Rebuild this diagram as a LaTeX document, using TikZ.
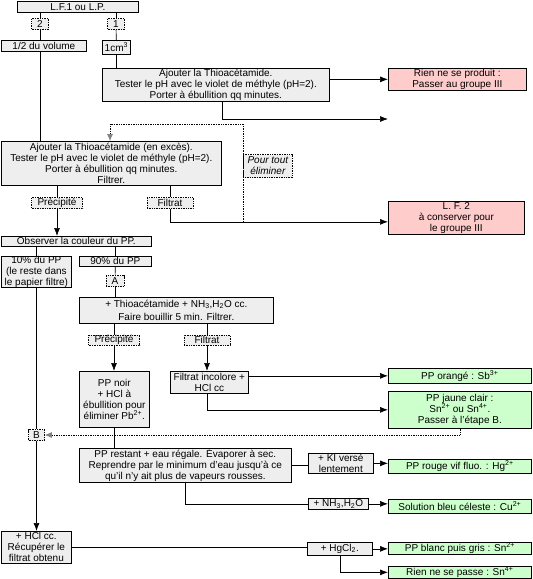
\documentclass[tikz,border=0pt]{standalone}
\usepackage{fontspec}
\setmainfont{Liberation Sans}
\usepackage{tikz}
\usetikzlibrary{arrows.meta, positioning}
\definecolor{boxgray}{HTML}{EEEEEE}
\definecolor{rosebox}{HTML}{FFCCCC}
\definecolor{vertbox}{HTML}{CCFFCC}

\begin{document}
\begin{tikzpicture}[x=1pt, y=-1pt, line width=0.7pt,
    every node/.style={font=\fontsize{10}{11}\selectfont, inner sep=0pt, align=center},
    etape/.style={draw, fill=boxgray, anchor=north west},
    rose/.style={etape, fill=rosebox},
    vert/.style={etape, fill=vertbox},
    repere/.style={draw, densely dotted, fill=boxgray, inner xsep=2pt, minimum height=11pt},
    fl/.style={-{Latex[length=8pt, width=6pt]}},
    retour/.style={densely dotted, -{Latex[length=7pt, width=6pt, gray]}}]
  \useasboundingbox (0,0) rectangle (533,579);

  % depart
  \node[etape, minimum width=121pt, minimum height=11pt] (lf1) at (17,1) {L.F.1 ou L.P.};
  \node[repere, minimum width=17pt] (t2) at (40,24) {2};
  \node[repere, minimum width=17pt] (t1) at (116,24) {1};
  \node[etape, minimum width=85pt, minimum height=11pt] (vol) at (1,40) {1/2 du volume};
  \node[etape, minimum width=28pt, minimum height=14pt] (cm) at (102,40) {1cm\textsuperscript{3}};

  \node[etape, minimum width=227pt, minimum height=33pt] (aj1) at (102,68) {Ajouter la Thioacétamide.\\
    Tester le pH avec le violet de méthyle (pH=2).\\Porter à ébullition qq minutes.};
  \node[rose, minimum width=138pt, minimum height=22pt] (rien) at (388,68) {Rien ne se produit :\\Passer au groupe III};
  \coordinate (suite) at (388,119);

  \node[etape, minimum width=220pt, minimum height=44pt] (aj2) at (1,141) {Ajouter la Thioacétamide (en excès).\\
    Tester le pH avec le violet de méthyle (pH=2).\\Porter à ébullition qq minutes.\\Filtrer.};
  \node[repere, anchor=west, minimum width=49pt, minimum height=23pt,
        font=\fontsize{10}{11}\selectfont\itshape] (pour) at (243,166) {Pour tout\\éliminer};
  \node[repere, minimum width=51pt] (prec1) at (57,203) {Précipité};
  \node[repere, minimum width=46pt] (filt1) at (170,203) {Filtrat};
  \node[rose, minimum width=136pt, minimum height=33pt] (lf2) at (388,201) {L. F. 2\\à conserver pour\\le groupe III};
  \coordinate (filtfin) at ([yshift=-4pt]lf2.west);

  % precipite
  \node[etape, minimum width=150pt, minimum height=10pt] (obs) at (1,236) {Observer la couleur du PP.};
  \node[etape, minimum width=70pt, minimum height=31pt] (p10) at (1,256) {10\% du PP\\(le reste dans\\le papier filtre)};
  \node[etape, minimum width=72pt, minimum height=10pt] (p90) at (79,256) {90\% du PP};
  \node[repere, minimum width=18pt] (tA) at (115,281) {A};
  \node[etape, minimum width=194pt, minimum height=26pt] (thio) at (79,297)
    {+ Thioacétamide + NH\textsubscript{3},H\textsubscript{2}O cc.\\[2pt]Faire bouillir 5 min. Filtrer.};
  \node[repere, minimum width=51pt, minimum height=10pt] (prec2) at (114,340) {Précipité};
  \node[repere, minimum width=46pt, minimum height=10pt] (filt2) at (207,340) {Filtrat};
  \node[etape, minimum width=70pt, minimum height=56pt] (noir) at (79,371)
    {PP noir\\+ HCl à\\ébullition pour\\éliminer Pb\textsuperscript{2+}.};
  \node[etape, minimum width=78pt, minimum height=22pt] (incol) at (170,371) {Filtrat incolore +\\HCl cc};
  \node[vert, minimum width=143pt, minimum height=15pt] (orange) at (388,368) {PP orangé : Sb\textsuperscript{3+}};
  \node[vert, minimum width=143pt, minimum height=37pt] (jaune) at (388,391)
    {PP jaune clair :\\Sn\textsuperscript{2+} ou Sn\textsuperscript{4+}.\\Passer à l'étape B.};

  % etape B
  \node[repere, minimum width=16pt] (tB) at (36.5,435) {B};
  \node[etape, minimum width=212pt, minimum height=34pt] (rest) at (79,448)
    {PP restant + eau régale. Évaporer à sec.\\Reprendre par le minimum d'eau jusqu'à ce\\qu'il n'y ait plus de vapeurs rousses.};
  \node[etape, minimum width=65pt, minimum height=20pt] (ki) at (308,453) {+ KI versé\\lentement};
  \node[vert, minimum width=143pt, minimum height=14pt] (hg) at (388,459) {PP rouge vif fluo. : Hg\textsuperscript{2+}};
  \node[etape, minimum width=60pt, minimum height=11pt] (nh) at (308,498) {+ NH\textsubscript{3},H\textsubscript{2}O};
  \node[vert, minimum width=143pt, minimum height=14pt] (cu) at (388,499) {Solution bleu céleste : Cu\textsuperscript{2+}};
  \node[etape, minimum width=70pt, minimum height=32pt] (hcl) at (1,531) {+ HCl cc.\\Récupérer le\\filtrat obtenu};
  \node[etape, minimum width=65pt, minimum height=13pt] (hgcl) at (307,542) {+ HgCl\textsubscript{2}.};
  \node[vert, minimum width=143pt, minimum height=12pt] (blanc) at (388,542) {PP blanc puis gris : Sn\textsuperscript{2+}};
  \node[vert, minimum width=143pt, minimum height=12pt] (passe) at (388,566) {Rien ne se passe : Sn\textsuperscript{4+}};

  % liaisons
  \draw (lf1.south -| t2) -- (t2);
  \draw (t2) -- (t2 |- vol.north);
  \draw (lf1.south -| t1) -- (t1);
  \draw (t1) -- (cm);
  \draw (cm) -- (cm |- aj1.north);
  \draw[fl] (aj1.east |- rien.west) -- (rien.west);
  \draw[fl] ([xshift=6pt]aj1.south) |- (suite);
  \draw (t2 |- vol.south) -- (t2 |- aj2.north);
  \coordinate (dh) at (243,124);
  \coordinate (dg) at (110,124);
  \draw[retour] (dh |- filtfin) -- (dh) -- (dg) -- (dg |- aj2.north);
  \draw (aj2.south -| prec1) -- (prec1);
  \draw[fl] (prec1) -- (prec1 |- obs.north);
  \draw (aj2.south -| filt1) -- (filt1);
  \draw[fl] (filt1) |- (filtfin);
  \draw (obs.south -| p10) -- (p10);
  \draw (obs.south -| p90) -- (p90);
  \draw (p90) -- (tA);
  \draw (tA) -- (tA |- thio.north);
  \draw (thio.south -| prec2) -- (prec2);
  \draw[fl] (prec2) -- (prec2 |- noir.north);
  \draw (thio.south -| filt2) -- (filt2);
  \draw[fl] (filt2) -- (filt2 |- incol.north);
  \draw[fl] (incol.east |- orange.west) -- (orange.west);
  \draw[fl] (incol.south -| filt2) |- (jaune.west);
  \draw[retour] (jaune.south) |- (tB.east);
  \draw (p10.south -| tB) -- (tB);
  \draw[fl] (tB) -- (tB |- hcl.north);
  \draw (noir) -- (noir.south |- rest.north);
  \draw (rest.east) -- (rest.east -| ki.west);
  \draw[fl] (ki.east) -- (ki.east -| hg.west);
  \draw (rest.south) |- (nh.west);
  \draw[fl] (nh.east) -- (nh.east -| cu.west);
  \draw (hcl.east) -- (hcl.east -| hgcl.west);
  \draw[fl] (hgcl.east) -- (hgcl.east -| blanc.west);
  \draw[fl] (hgcl.south) |- (passe.west);
\end{tikzpicture}
\end{document}
